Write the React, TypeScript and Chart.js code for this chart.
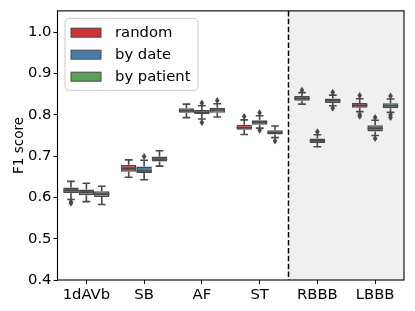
import { useEffect, useRef } from 'react';
import { Chart, registerables } from 'chart.js';

Chart.register(...registerables);

const categories = ['1dAVb', 'SB', 'AF', 'ST', 'RBBB', 'LBBB'];
const seriesLabels = ['random', 'by date', 'by patient'];
const seriesColors = ['#cb3335', '#477ca8', '#59a257'];
const yTickValues = [0.4, 0.5, 0.6, 0.7, 0.8, 0.9, 1.0];
const yMin = 0.4;
const yMax = 1.052;
// index of last category before the shaded region
const splitAfter = 3;

// [whiskerLow, q1, median, q3, whiskerHigh]
const randomStats = [
  [0.595, 0.610, 0.617, 0.624, 0.639],
  [0.649, 0.662, 0.670, 0.679, 0.691],
  [0.7935, 0.805, 0.810, 0.816, 0.826],
  [0.7525, 0.764, 0.769, 0.776, 0.788],
  [0.826, 0.8345, 0.840, 0.846, 0.854],
  [0.808, 0.8176, 0.823, 0.829, 0.839],
];
const byDateStats = [
  [0.590, 0.6055, 0.613, 0.619, 0.6345],
  [0.643, 0.6595, 0.664, 0.675, 0.690],
  [0.790, 0.802, 0.8065, 0.812, 0.822],
  [0.768, 0.776, 0.7824, 0.787, 0.798],
  [0.723, 0.732, 0.737, 0.743, 0.752],
  [0.750, 0.760, 0.7675, 0.775, 0.787],
];
const byPatientStats = [
  [0.583, 0.601, 0.608, 0.615, 0.627],
  [0.676, 0.687, 0.693, 0.6995, 0.713],
  [0.795, 0.805, 0.812, 0.8176, 0.827],
  [0.745, 0.7525, 0.757, 0.763, 0.773],
  [0.822, 0.829, 0.8345, 0.840, 0.848],
  [0.806, 0.816, 0.822, 0.828, 0.8386],
];

const randomFliers = [[0.589, 0.586], [], [], [0.796], [0.860], [0.847, 0.801, 0.797]];
const byDateFliers = [[], [0.699], [0.829, 0.7815], [0.8055, 0.763], [0.759], [0.7935, 0.743]];
const byPatientFliers = [[], [], [0.835], [0.737], [0.855, 0.816], [0.846, 0.7995, 0.7935]];

const statsBySeries = [randomStats, byDateStats, byPatientStats];
const fliersBySeries = [randomFliers, byDateFliers, byPatientFliers];

const LINE = '#484848';
const FONT = 'DejaVu Sans';
const TICK_SIZE = 14.8;

const boxPlugin = {
  id: 'boxDecor',
  beforeDatasetsDraw(chart: any) {
    const { ctx, chartArea: a, scales } = chart;
    const x = scales.x;
    const splitX = (x.getPixelForValue(splitAfter) + x.getPixelForValue(splitAfter + 1)) / 2;
    ctx.save();
    ctx.fillStyle = '#f0f0f0';
    ctx.fillRect(splitX, a.top, a.right - splitX, a.bottom - a.top);
    ctx.restore();
  },
  afterDatasetsDraw(chart: any) {
    const { ctx, chartArea: a, scales } = chart;
    const x = scales.x;
    const y = scales.y;
    ctx.save();
    ctx.strokeStyle = LINE;
    ctx.fillStyle = LINE;
    ctx.lineWidth = 1.6;
    statsBySeries.forEach((stats, si) => {
      const meta = chart.getDatasetMeta(si);
      meta.data.forEach((el: any, j: number) => {
        const s = stats[j];
        const cx = el.x;
        const w = el.width;
        const pLo = y.getPixelForValue(s[0]);
        const pQ1 = y.getPixelForValue(s[1]);
        const pMed = y.getPixelForValue(s[2]);
        const pQ3 = y.getPixelForValue(s[3]);
        const pHi = y.getPixelForValue(s[4]);
        ctx.beginPath();
        ctx.moveTo(cx, pQ3);
        ctx.lineTo(cx, pHi);
        ctx.moveTo(cx, pQ1);
        ctx.lineTo(cx, pLo);
        ctx.moveTo(cx - w / 4, pHi);
        ctx.lineTo(cx + w / 4, pHi);
        ctx.moveTo(cx - w / 4, pLo);
        ctx.lineTo(cx + w / 4, pLo);
        ctx.moveTo(cx - w / 2, pMed);
        ctx.lineTo(cx + w / 2, pMed);
        ctx.stroke();
        fliersBySeries[si][j].forEach((v) => {
          const py = y.getPixelForValue(v);
          ctx.beginPath();
          ctx.moveTo(cx, py - 3.5);
          ctx.lineTo(cx + 2.3, py);
          ctx.lineTo(cx, py + 3.5);
          ctx.lineTo(cx - 2.3, py);
          ctx.closePath();
          ctx.fill();
        });
      });
    });
    // dashed separator
    const splitX = (x.getPixelForValue(splitAfter) + x.getPixelForValue(splitAfter + 1)) / 2;
    ctx.strokeStyle = '#000';
    ctx.lineWidth = 1.5;
    ctx.setLineDash([5.5, 2.4]);
    ctx.beginPath();
    ctx.moveTo(splitX, a.top);
    ctx.lineTo(splitX, a.bottom);
    ctx.stroke();
    ctx.setLineDash([]);
    // frame
    ctx.lineWidth = 1.1;
    ctx.strokeRect(a.left, a.top, a.right - a.left, a.bottom - a.top);
    // legend
    const lx = a.left + 7.5;
    const ly = a.top + 7.5;
    const lw = 133;
    const lh = 72;
    ctx.beginPath();
    ctx.roundRect(lx, ly, lw, lh, 4);
    ctx.fillStyle = 'rgba(255,255,255,0.8)';
    ctx.fill();
    ctx.strokeStyle = '#cccccc';
    ctx.lineWidth = 1;
    ctx.stroke();
    ctx.font = `${TICK_SIZE}px "${FONT}"`;
    ctx.textBaseline = 'middle';
    ctx.textAlign = 'left';
    seriesLabels.forEach((label, i) => {
      const cy = ly + 14.3 + i * 22;
      ctx.fillStyle = seriesColors[i];
      ctx.fillRect(lx + 6, cy - 4.5, 30, 9);
      ctx.strokeStyle = LINE;
      ctx.lineWidth = 1;
      ctx.strokeRect(lx + 6, cy - 4.5, 30, 9);
      ctx.fillStyle = '#000';
      ctx.fillText(label, lx + 50, cy + 0.5);
    });
    ctx.restore();
  },
};

export default function App() {
  const ref = useRef<HTMLCanvasElement | null>(null);
  useEffect(() => {
    document.body.style.margin = '0';
    const canvas = ref.current;
    if (!canvas) return;
    const chart = new Chart(canvas, {
      type: 'bar',
      data: {
        labels: categories,
        datasets: statsBySeries.map((stats, i) => ({
          label: seriesLabels[i],
          data: stats.map((s) => [s[1], s[3]]),
          backgroundColor: seriesColors[i],
          borderColor: LINE,
          borderWidth: 1.5,
          borderSkipped: false,
          categoryPercentage: 0.8,
          barPercentage: 1.0,
        })) as any,
      },
      options: {
        animation: false,
        responsive: false,
        layout: { padding: { left: 0, right: 11, top: 9.3, bottom: 0 } },
        plugins: { legend: { display: false }, tooltip: { enabled: false } },
        scales: {
          x: {
            type: 'category',
            offset: true,
            grid: {
              offset: false,
              drawOnChartArea: false,
              drawTicks: true,
              tickLength: 4,
              tickColor: '#000',
              tickWidth: 1,
            },
            border: { display: false },
            ticks: {
              color: '#000',
              padding: 2,
              maxRotation: 0,
              font: { family: FONT, size: TICK_SIZE },
            },
            afterFit: (scale: any) => {
              scale.height = 31;
            },
          },
          y: {
            type: 'linear',
            min: yMin,
            max: yMax,
            afterBuildTicks: (scale: any) => {
              scale.ticks = yTickValues.map((v) => ({ value: v }));
            },
            grid: {
              drawOnChartArea: false,
              drawTicks: true,
              tickLength: 4,
              tickColor: '#000',
              tickWidth: 1,
            },
            border: { display: false },
            ticks: {
              color: '#000',
              padding: 2,
              font: { family: FONT, size: TICK_SIZE },
              callback: (v: any) => Number(v).toFixed(1),
            },
            title: {
              display: true,
              text: 'F1 score',
              color: '#000',
              font: { family: FONT, size: 13.5 },
              padding: { top: 11, bottom: 0 },
            },
            afterFit: (scale: any) => {
              scale.width = 57.5;
            },
          },
        },
      },
      plugins: [boxPlugin],
    });
    return () => chart.destroy();
  }, []);
  return (
    <div style={{ width: 415, height: 311 }}>
      <canvas ref={ref} width={415} height={311} />
    </div>
  );
}
